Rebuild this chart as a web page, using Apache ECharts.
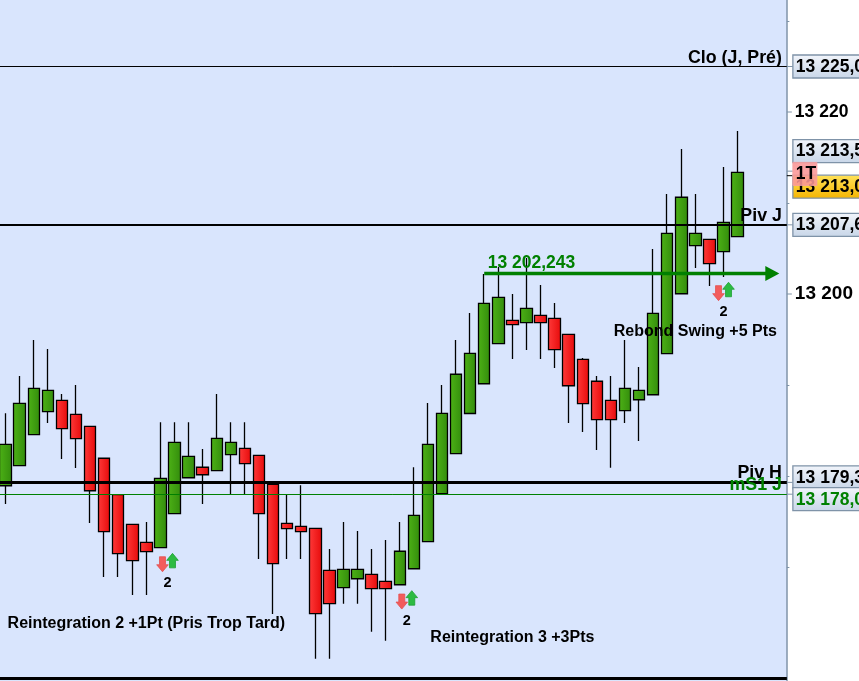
<!DOCTYPE html>
<html><head><meta charset="utf-8">
<style>html,body{margin:0;padding:0;background:#fff}#c{width:859px;height:681px}</style>
<script src="https://cdn.jsdelivr.net/npm/echarts@6/dist/echarts.min.js"></script>
</head><body><div id="c"></div>
<script>
const bars = ['1','2','3','4','5','6','7','8','9','10','11','12','13','14','15','16','17','18','19','20','21','22','23','24','25','26','27','28','29','30','31','32','33','34','35','36','37','38','39','40','41','42','43','44','45','46','47','48','49','50','51','52','53','54','55','56'];
const opens = [13178.93,13181.13,13184.54,13187.07,13188.32,13186.78,13185.46,13181.95,13177.95,13174.69,13172.71,13172.12,13175.86,13179.81,13180.96,13180.58,13182.34,13183.04,13182.27,13179.09,13174.80,13174.47,13174.25,13169.64,13167.73,13168.71,13169.20,13168.43,13168.05,13169.81,13172.78,13178.05,13182.45,13186.87,13190.14,13194.54,13197.11,13196.85,13197.66,13197.33,13195.57,13192.82,13190.41,13188.32,13187.18,13188.38,13188.93,13193.44,13200.03,13205.31,13206.01,13204.65,13206.30];
const closes = [13183.48,13187.99,13189.64,13189.42,13185.20,13184.10,13178.38,13173.88,13171.46,13170.69,13171.68,13179.75,13183.70,13182.16,13180.14,13184.14,13183.70,13181.35,13175.86,13170.36,13174.21,13173.88,13164.87,13165.97,13169.75,13169.75,13167.62,13167.62,13171.73,13175.68,13183.48,13186.89,13191.18,13193.48,13198.98,13199.64,13196.63,13198.43,13196.85,13193.88,13189.92,13187.95,13186.19,13186.19,13189.64,13189.42,13197.88,13206.67,13210.63,13206.67,13203.33,13207.88,13213.37];
const lows = [13176.92,13181.13,13184.54,13185.82,13181.87,13180.88,13174.83,13168.90,13168.90,13166.92,13166.92,13172.12,13175.86,13179.81,13176.92,13180.58,13178.02,13178.02,13170.88,13164.84,13170.88,13170.88,13159.92,13159.92,13165.97,13165.97,13162.89,13161.90,13168.05,13169.81,13172.78,13178.05,13182.45,13186.87,13190.14,13194.54,13192.86,13193.85,13192.86,13191.87,13185.82,13184.84,13182.86,13180.91,13185.82,13183.85,13188.93,13193.44,13200.03,13202.86,13200.88,13201.87,13206.30];
const highs = [13186.89,13190.99,13194.95,13193.96,13189.01,13190.00,13185.46,13181.95,13177.95,13174.69,13174.95,13185.90,13185.90,13185.90,13182.97,13189.01,13185.90,13185.90,13182.27,13179.09,13177.91,13178.98,13174.25,13171.98,13174.95,13173.96,13171.98,13172.97,13174.95,13180.96,13188.02,13190.00,13194.95,13197.91,13202.20,13203.00,13200.00,13203.96,13200.99,13199.01,13195.57,13192.97,13190.99,13190.99,13194.95,13191.98,13204.95,13210.99,13215.93,13210.99,13206.01,13213.96,13217.91];

const levelPrices = [13225, 13207.6, 13179.3, 13178, 13157.75];
const levelColors = ['#000000','#000000','#000000','#008000','#000000'];
const levelWidths = [1, 2, 3, 1, 3];
const targetPrice = 13202.243;
const targetStartBar = 34;
const targetEndBar = 55;

const axisTickLabels = {13220:'13 220', 13200:'13 200'};
const shortTickPrices = [13230,13210,13190,13180,13170];
const longTickPrices = [13220,13200];

const levelNames = ['Clo (J, Pré)','Piv J','Piv H','mS1 J'];
const levelNamePrices = [13224.8, 13207.5, 13179.2, 13177.85];
const levelNameColors = ['#000000','#000000','#000000','#008000'];

const noteTexts = ['Reintegration 2 +1Pt (Pris Trop Tard)','Reintegration 3 +3Pts','Rebond Swing +5 Pts'];
const noteBars = [10, 36, 49];
const notePrices = [13163.75, 13162.25, 13195.87];

const signalBars = [11.5, 28.5, 51];
const signalPrices = [13171.5, 13167.4, 13201.29];
const signalCounts = ['2','2','2'];

const tagTexts = ['13 225,0','13 213,5','13 213,0','13 207,6','13 179,3','13 178,0'];
const tagPrices = [13225, 13213.5, 13213, 13207.6, 13179.3, 13178];
const tagShift = [0, -20, 11, 0, -5, 5];
const tagKinds = ['plain','plain','last','plain','plain','green'];

const BG = '#d9e5fd', FONT = '"Liberation Sans", Arial, sans-serif';
const B = 14.077, firstCenter = 5.6;
const gridLeft = firstCenter - B / 2;
const yTop = 294 - (13240 - 13200) * 9.1, yH = 90 * 9.1;

function vGrad(a, b){return {type:'linear',x:0,y:0,x2:0,y2:1,colorStops:[{offset:0,color:a},{offset:1,color:b}]};}
function hGrad(a, b){return {type:'linear',x:0,y:0,x2:1,y2:0,colorStops:[{offset:0,color:a},{offset:1,color:b}]};}

const chart = echarts.init(document.getElementById('c'), null, {renderer:'canvas'});
const levelLines = levelPrices.map((p,i)=>({yAxis:p,lineStyle:{color:levelColors[i],width:levelWidths[i],type:'solid'},symbol:'none'}));

chart.setOption({
  animation:false,
  backgroundColor:'#ffffff',
  grid:{show:true,left:gridLeft,top:yTop,width:bars.length*B,height:yH,backgroundColor:BG,borderWidth:0,containLabel:false,outerBoundsMode:'none'},
  xAxis:{type:'category',data:bars,boundaryGap:true,show:false},
  yAxis:{type:'value',position:'right',min:13150,max:13240,interval:10,scale:true,
    axisLine:{show:true,onZero:false,lineStyle:{color:'#7f93a8',width:1.5}},
    axisTick:{show:true,length:2.5,customValues:shortTickPrices,lineStyle:{color:'#7f93a8'}},
    splitLine:{show:false},
    axisLabel:{show:true,margin:8,color:'#000',fontFamily:FONT,fontWeight:'bold',fontSize:16,
      formatter:v=>axisTickLabels[v]?(v===13200?'{big|'+axisTickLabels[v]+'}':'{n|'+axisTickLabels[v]+'}'):'',
      rich:{n:{fontFamily:FONT,fontWeight:'bold',fontSize:17.5,color:'#000'},big:{fontFamily:FONT,fontWeight:'bold',fontSize:19,color:'#000'}}}},
  series:[
    {type:'candlestick',barWidth:12,clip:true,z:2,
     data:opens.map((o,i)=>[o,closes[i],lows[i],highs[i]]),
     itemStyle:{color:hGrad('#4db216','#338c0c'),color0:hGrad('#ff3a3a','#e60a0a'),borderColor:'#000',borderColor0:'#000',borderWidth:1.3},
     markLine:{silent:true,animation:false,symbol:'none',label:{show:false},z:3,data:levelLines}},
    {type:'custom',coordinateSystem:'cartesian2d',z:4,silent:true,
     encode:{x:0,y:1},
     data:[[targetStartBar,targetPrice,targetEndBar]],
     renderItem(params,api){
       const a=api.coord([api.value(0),api.value(1)]), b=api.coord([api.value(2),api.value(1)]);
       const tip=b[0]-0.5, base=tip-14, y=a[1];
       return {type:'group',children:[
         {type:'line',shape:{x1:a[0],y1:y,x2:base+1,y2:y},style:{stroke:'#008000',lineWidth:3.5}},
         {type:'polygon',shape:{points:[[tip,y],[base,y-7.5],[base,y+7.5]]},style:{fill:'#008000'}}
       ]};
     }},
    {type:'custom',coordinateSystem:'cartesian2d',z:4,silent:true,
     encode:{x:0,y:1},
     data:longTickPrices.map(p=>[55,p]),
     renderItem(params,api){
       const p=api.coord([api.value(0),api.value(1)]), cs=params.coordSys, x=cs.x+cs.width;
       return {type:'line',shape:{x1:x,y1:p[1],x2:x+5,y2:p[1]},style:{stroke:'#7f93a8',lineWidth:1}};
     }},
    {type:'custom',coordinateSystem:'cartesian2d',z:5,silent:true,
     encode:{x:0,y:1},
     data:levelNames.map((n,i)=>[55,levelNamePrices[i],i]),
     renderItem(params,api){
       const i=api.value(2), p=api.coord([api.value(0),api.value(1)]), cs=params.coordSys;
       return {type:'text',style:{text:levelNames[i],x:cs.x+cs.width-5,y:p[1]-1,align:'right',verticalAlign:'bottom',fill:levelNameColors[i],font:'bold 17.8px '+FONT}};
     }},
    {type:'custom',coordinateSystem:'cartesian2d',z:5,silent:true,
     encode:{x:0,y:1},
     data:noteTexts.map((n,i)=>[noteBars[i],notePrices[i],i]),
     renderItem(params,api){
       const i=api.value(2), p=api.coord([api.value(0),api.value(1)]);
       return {type:'text',style:{text:noteTexts[i],x:p[0],y:p[1],align:'center',verticalAlign:'middle',fill:'#000',font:'bold 16px '+FONT}};
     }},
    {type:'custom',coordinateSystem:'cartesian2d',z:5,silent:true,
     encode:{x:0,y:1},
     data:[[targetStartBar,targetPrice]],
     renderItem(params,api){
       const p=api.coord([api.value(0),api.value(1)]);
       return {type:'text',style:{text:'13 202,243',x:p[0]+3.5,y:p[1]-1.5,align:'left',verticalAlign:'bottom',fill:'#008000',font:'bold 17.5px '+FONT}};
     }},
    {type:'custom',coordinateSystem:'cartesian2d',z:6,silent:true,
     encode:{x:0,y:1},
     data:signalBars.map((b,i)=>[Math.floor(b),signalPrices[i],b-Math.floor(b),i]),
     renderItem(params,api){
       const i=api.value(3), p=api.coord([api.value(0),api.value(1)]);
       const cx=p[0]+api.value(2)*B, y=p[1];
       const up=(x,t)=>[[x,t],[x+5.8,t+7],[x+3,t+7],[x+3,t+14.5],[x-3,t+14.5],[x-3,t+7],[x-5.8,t+7]];
       const dn=(x,t)=>[[x,t+15],[x+5.8,t+8],[x+3,t+8],[x+3,t],[x-3,t],[x-3,t+8],[x-5.8,t+8]];
       return {type:'group',children:[
         {type:'polygon',shape:{points:dn(cx-5,y+3.4)},style:{fill:'#f25c5c',stroke:'#e35050',lineWidth:.8}},
         {type:'polygon',shape:{points:up(cx+5,y)},style:{fill:'#2dbb42',stroke:'#1f9f33',lineWidth:.8}},
         {type:'text',style:{text:signalCounts[i],x:cx,y:y+30,align:'center',verticalAlign:'middle',fill:'#000',font:'bold 14.5px '+FONT}}
       ]};
     }},
    {type:'custom',coordinateSystem:'cartesian2d',z:7,silent:true,
     encode:{x:0,y:1},
     data:tagTexts.map((t,i)=>[55,tagPrices[i],i]),
     renderItem(params,api){
       const i=api.value(2), p=api.coord([api.value(0),api.value(1)]), cs=params.coordSys;
       const x=cs.x+cs.width, c=p[1]+tagShift[i], k=tagKinds[i];
       const fill=k==='last'?vGrad('#ffe35a','#f5b400'):vGrad('#f2f5fb','#c8d6e8');
       const col=k==='green'?'#008000':'#000';
       return {type:'group',children:[
         {type:'line',shape:{x1:x,y1:p[1],x2:x+6,y2:p[1]},style:{stroke:k==='plain'||k==='green'?'#7f93a8':'#000',lineWidth:1}},
         {type:'rect',shape:{x:x+6,y:c-11.5,width:90,height:23},style:{fill,stroke:'#7f93a8',lineWidth:1.3}},
         {type:'text',style:{text:tagTexts[i],x:x+9,y:c+.5,align:'left',verticalAlign:'middle',fill:col,font:'bold 17.5px '+FONT}}
       ]};
     }},
    {type:'custom',coordinateSystem:'cartesian2d',z:8,silent:true,
     encode:{x:0,y:1},
     data:[[55,13213.2]],
     renderItem(params,api){
       const p=api.coord([api.value(0),api.value(1)]), cs=params.coordSys, x=cs.x+cs.width;
       return {type:'group',children:[
         {type:'rect',shape:{x:x+6,y:p[1]-11.5,width:24,height:23},style:{fill:'rgba(250,150,150,0.88)',stroke:'rgba(245,160,160,0.9)',lineWidth:1}},
         {type:'text',style:{text:'1T',x:x+9,y:p[1]+.5,align:'left',verticalAlign:'middle',fill:'#000',font:'bold 17.5px '+FONT}}
       ]};
     }}
  ]
});
</script></body></html>
